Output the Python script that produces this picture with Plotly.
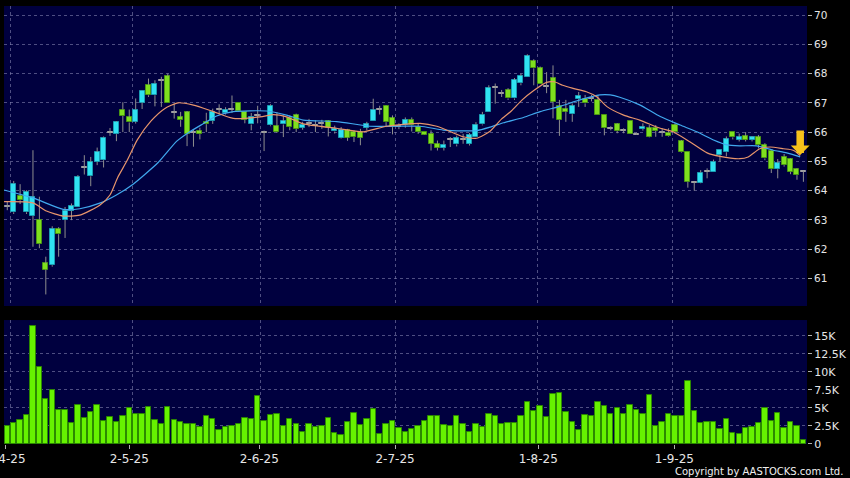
import plotly.graph_objects as go

# ---------------- data ----------------
tick_labels = ["2-4-25", "2-5-25", "2-6-25", "2-7-25", "1-8-25", "1-9-25"]
tick_index = [-0.2, 19.0, 39.25, 60.4, 82.7, 103.9]      # label positions (bar index)
grid_index = [0.53, 19.53, 39.4, 60.4, 82.6, 103.6]      # dashed vertical grid positions

opens = [63.47, 63.26, 63.81, 63.26, 63.13, 63.01, 61.51, 61.45, 62.70, 63.01,
         63.31, 63.44, 64.78, 64.49, 64.98, 65.04, 65.98, 65.93, 66.77, 66.50,
         66.35, 67.01, 67.62, 67.26, 67.75, 67.91, 66.68, 66.50, 66.67, 65.98,
         66.02, 66.35, 66.38, 66.77, 66.66, 66.78, 66.99, 66.68, 66.26, 66.57,
         65.98, 66.23, 66.20, 66.26, 66.49, 66.59, 66.15, 66.30, 66.22, 66.30,
         66.38, 66.02, 65.81, 66.06, 66.00, 66.00, 66.15, 66.38, 66.76, 66.89,
         66.48, 66.20, 66.23, 66.43, 66.19, 66.00, 65.94, 65.60, 65.46, 65.75,
         65.58, 65.75, 65.60, 65.83, 66.26, 66.69, 67.52, 67.32, 67.44, 67.15,
         67.67, 67.90, 68.43, 68.18, 67.55, 67.84, 66.89, 66.78, 66.61, 67.13,
         67.13, 67.15, 67.10, 66.58, 66.13, 66.26, 66.04, 66.39, 65.93, 66.10,
         66.13, 66.15, 65.98, 65.98, 66.24, 65.70, 65.31, 64.27, 64.27, 64.65,
         64.64, 65.22, 65.31, 66.01, 65.73, 65.86, 65.73, 65.82, 65.56, 65.36,
         64.73, 65.16, 65.07, 64.73, 64.64]
highs = [63.62, 64.33, 64.22, 64.01, 65.38, 63.79, 61.74, 62.78, 62.75, 63.44,
         63.56, 64.53, 65.21, 65.15, 65.47, 65.85, 66.14, 66.37, 67.02, 66.77,
         67.15, 67.43, 67.83, 67.77, 67.89, 68.00, 66.97, 66.69, 66.72, 66.10,
         66.15, 66.66, 66.80, 66.95, 66.85, 67.25, 66.99, 66.68, 66.65, 66.90,
         66.05, 66.95, 66.67, 66.57, 66.57, 66.63, 66.35, 66.45, 66.40, 66.42,
         66.40, 66.22, 66.17, 66.11, 66.06, 66.11, 66.35, 67.14, 66.90, 66.91,
         66.57, 66.30, 66.50, 66.50, 66.28, 66.00, 66.06, 65.71, 65.71, 65.83,
         65.88, 65.94, 65.97, 66.34, 66.69, 67.60, 67.66, 67.44, 67.50, 67.85,
         68.00, 68.66, 68.49, 68.24, 68.05, 68.28, 67.10, 67.10, 66.98, 67.37,
         67.27, 67.27, 67.27, 66.58, 66.20, 66.30, 66.13, 66.39, 65.98, 66.30,
         66.24, 66.24, 66.13, 66.13, 66.30, 65.73, 65.31, 64.30, 64.70, 64.76,
         65.06, 65.39, 65.85, 66.01, 65.95, 66.00, 65.86, 65.90, 65.62, 65.38,
         65.08, 65.25, 65.10, 64.76, 64.68]
lows = [63.33, 63.20, 63.54, 63.20, 62.08, 62.03, 60.45, 61.40, 61.74, 62.38,
        62.99, 63.44, 64.55, 64.15, 64.87, 64.79, 65.87, 65.69, 66.00, 66.00,
        66.29, 66.79, 67.20, 66.88, 66.86, 67.00, 66.46, 66.18, 65.52, 65.50,
        65.75, 66.00, 66.28, 66.60, 66.60, 66.66, 66.70, 66.30, 66.06, 66.30,
        65.35, 66.20, 65.97, 65.83, 66.06, 66.00, 66.08, 66.17, 66.00, 66.11,
        65.85, 65.95, 65.78, 65.70, 65.66, 65.55, 66.06, 66.38, 66.60, 66.17,
        65.92, 66.10, 66.15, 66.02, 65.94, 65.90, 65.37, 65.37, 65.37, 65.49,
        65.51, 65.60, 65.54, 65.83, 66.23, 66.69, 66.97, 67.20, 67.10, 67.10,
        67.60, 67.90, 67.60, 67.63, 67.33, 66.47, 65.87, 66.35, 66.35, 66.86,
        66.86, 67.05, 66.58, 65.89, 66.06, 65.96, 65.96, 65.93, 65.90, 66.05,
        65.82, 65.84, 65.84, 65.84, 65.95, 65.29, 64.10, 64.00, 64.25, 64.42,
        64.64, 64.99, 65.17, 65.75, 65.68, 65.68, 65.68, 65.44, 65.04, 64.60,
        64.42, 64.82, 64.56, 64.37, 64.30]
closes = [63.47, 64.24, 63.67, 63.96, 63.79, 62.17, 61.30, 62.70, 62.51, 63.31,
          63.47, 64.47, 64.78, 64.98, 65.32, 65.81, 65.98, 66.34, 66.55, 66.33,
          66.77, 67.42, 67.26, 67.66, 67.75, 67.00, 66.68, 66.41, 65.95, 65.98,
          65.93, 66.27, 66.68, 66.77, 66.76, 66.78, 66.72, 66.42, 66.53, 66.57,
          65.98, 66.90, 66.00, 66.38, 66.17, 66.11, 66.25, 66.30, 66.22, 66.30,
          66.14, 66.11, 66.06, 65.81, 65.83, 65.81, 66.26, 66.76, 66.76, 66.34,
          66.17, 66.20, 66.43, 66.23, 66.00, 65.91, 65.60, 65.46, 65.57, 65.75,
          65.79, 65.75, 65.89, 66.25, 66.60, 67.52, 67.52, 67.32, 67.15, 67.78,
          67.92, 68.60, 68.18, 67.63, 67.55, 67.04, 66.41, 66.70, 66.89, 67.24,
          66.98, 67.15, 66.58, 66.13, 66.13, 66.04, 66.04, 65.93, 65.93, 66.17,
          65.84, 66.04, 65.98, 65.86, 66.01, 65.31, 64.30, 64.27, 64.61, 64.65,
          64.99, 65.39, 65.75, 65.82, 65.82, 65.73, 65.82, 65.56, 65.10, 64.73,
          64.93, 64.87, 64.64, 64.53, 64.64]
volumes_k = [2.45, 2.96, 3.38, 4.03, 16.4, 10.7, 6.3, 7.5, 4.77, 4.68,
             2.96, 5.4, 3.66, 4.4, 5.4, 3.2, 3.7, 3.06, 3.94, 5.0,
             4.2, 4.2, 5.1, 3.3, 2.8, 5.1, 3.3, 3.0, 2.7, 2.7,
             2.4, 3.9, 3.5, 2.0, 2.4, 2.5, 2.7, 3.66, 3.4, 6.67,
             3.15, 4.07, 4.17, 2.55, 3.4, 2.7, 1.7, 2.8, 2.3, 2.5,
             3.66, 1.57, 1.25, 3.0, 4.35, 2.6, 3.4, 4.8, 1.34, 2.7,
             3.2, 2.2, 1.7, 2.1, 2.45, 3.15, 3.9, 3.9, 2.6, 2.45,
             3.9, 2.7, 1.67, 2.7, 2.3, 4.17, 3.9, 2.8, 2.87, 2.9,
             3.84, 5.8, 4.5, 5.3, 3.7, 6.9, 7.0, 4.4, 3.06, 1.9,
             4.0, 3.9, 5.8, 5.3, 4.1, 5.05, 4.2, 5.46, 4.68, 4.17,
             6.76, 2.55, 3.1, 4.2, 3.9, 3.84, 8.66, 4.63, 2.9, 3.0,
             3.0, 2.1, 3.5, 1.57, 1.43, 2.27, 2.36, 2.87, 5.0, 3.2,
             4.3, 2.2, 3.1, 2.45, 0.55]

# moving-average lines at the given bar positions
ma_fast_x = [-0.5, 4, 6.1, 8.7, 11.3, 14.4, 16, 17.2, 18.6, 20.3, 22.4, 24.5, 26.6,
             29, 32.1, 35.2, 39.4, 41.5, 43.5, 46.1, 51.3, 55.4, 59.1, 64.3, 66.9,
             71.0, 73.1, 75.2, 77.0, 78.5, 80.2, 82, 84, 85.2, 86.5, 88, 90.2, 91.8,
             93.4, 96, 98.5, 101.7, 103.7, 106.3, 109, 111, 114.1, 115.4, 117.2,
             118.8, 120.9, 122.4, 123.5]
ma_fast = [63.62, 63.58, 63.30, 63.13, 63.16, 63.50, 63.85, 64.45, 65.00, 65.75, 66.38,
           66.80, 67.00, 66.92, 66.70, 66.47, 66.52, 66.60, 66.52, 66.28, 66.13, 66.01,
           66.20, 66.30, 66.20, 65.84, 65.79, 66.03, 66.45, 66.72, 67.10, 67.42, 67.70,
           67.72, 67.60, 67.50, 67.38, 67.21, 66.87, 66.58, 66.41, 66.13, 66.01, 65.67,
           65.29, 65.17, 65.09, 65.15, 65.43, 65.49, 65.43, 65.38, 65.20]
ma_slow_x = [-0.5, 4, 8.7, 11.3, 14.4, 17, 19.6, 23.5, 26.4, 28.2, 30.4, 32.6, 35.2,
             40.4, 43.5, 46.1, 51.3, 56.5, 60.6, 64.3, 67.9, 71.0, 73.1, 75.2, 77.3,
             80.4, 83, 86.1, 89.2, 92.3, 93.9, 95.4, 98.5, 101.7, 104.8, 107.4, 110,
             112.1, 114.1, 116.7, 119.3, 121.4, 123.5]
ma_slow = [64.02, 63.75, 63.36, 63.38, 63.57, 63.85, 64.22, 64.96, 65.69, 65.98, 66.27,
           66.55, 66.70, 66.72, 66.58, 66.41, 66.36, 66.20, 66.20, 66.20, 66.07, 66.04,
           66.05, 66.17, 66.32, 66.50, 66.70, 66.88, 67.10, 67.27, 67.27, 67.19, 66.93,
           66.53, 66.24, 66.01, 65.73, 65.56, 65.53, 65.53, 65.38, 65.29, 65.15]

price_ticks = [61, 62, 63, 64, 65, 66, 67, 68, 69, 70]
vol_ticks = [0, 2.5, 5, 7.5, 10, 12.5, 15]
vol_tick_text = ["0", "2.5K", "5K", "7.5K", "10K", "12.5K", "15K"]

# ---------------- styling ----------------
NAVY = "#00003f"
GRID = "rgba(130,130,175,0.6)"
UP_FILL, UP_LINE = "#30e2f2", "#1a9db2"
DN_FILL, DN_LINE = "#7fe01e", "#4a9614"
DOJI = "#a2a2a2"
WICK = "#8e8e8e"
FONT = "DejaVu Sans"

idx = list(range(len(opens)))

body_base, body_h, body_fill, body_line = [], [], [], []
wick_x, wick_y = [], []
for i, o, h, l, c in zip(idx, opens, highs, lows, closes):
    top, bot = max(o, c), min(o, c)
    if c > o:
        body_fill.append(UP_FILL); body_line.append(UP_LINE)
        body_base.append(bot); body_h.append(top - bot)
    elif c < o:
        body_fill.append(DN_FILL); body_line.append(DN_LINE)
        body_base.append(bot); body_h.append(top - bot)
    else:
        body_fill.append(DOJI); body_line.append(DOJI)
        body_base.append(bot - 0.015); body_h.append(0.03)
    if h > top:
        wick_x += [i, i, None]; wick_y += [top, h, None]
    if l < bot:
        wick_x += [i, i, None]; wick_y += [l, bot, None]

fig = go.Figure()

fig.add_trace(go.Bar(x=idx, y=body_h, base=body_base, width=0.78,
                     marker=dict(color=body_fill, line=dict(color=body_line, width=1)),
                     xaxis="x", yaxis="y", hoverinfo="skip", showlegend=False))
fig.add_trace(go.Scatter(x=wick_x, y=wick_y, mode="lines",
                         line=dict(color=WICK, width=1),
                         xaxis="x", yaxis="y", hoverinfo="skip", showlegend=False))
fig.add_trace(go.Scatter(x=ma_slow_x, y=ma_slow, mode="lines",
                         line=dict(color="#41a8ee", width=1.2, shape="spline", smoothing=0.6),
                         xaxis="x", yaxis="y", hoverinfo="skip", showlegend=False))
fig.add_trace(go.Scatter(x=ma_fast_x, y=ma_fast, mode="lines",
                         line=dict(color="#e8956c", width=1.2, shape="spline", smoothing=0.6),
                         xaxis="x", yaxis="y", hoverinfo="skip", showlegend=False))
fig.add_trace(go.Bar(x=idx, y=volumes_k, width=0.84,
                     marker=dict(color="#66f200", line=dict(color="#2c8a00", width=1)),
                     xaxis="x2", yaxis="y2", hoverinfo="skip", showlegend=False))

xrange = [-0.51, 124.56]
common_x = dict(range=xrange, showgrid=False, zeroline=False, showline=False,
                automargin=False,
                minor=dict(tickvals=grid_index, showgrid=True, gridcolor=GRID,
                           griddash="3px,3px", gridwidth=1, ticklen=0))

fig.update_layout(
    width=850, height=478,
    margin=dict(l=4, r=43, t=6, b=34, autoexpand=False),
    paper_bgcolor="black", plot_bgcolor=NAVY,
    barmode="overlay", bargap=0,
    font=dict(family=FONT, color="#e6e6e6"),
    xaxis=dict(**common_x, anchor="y", showticklabels=False, ticks="",
               tickvals=tick_index),
    xaxis2=dict(**common_x, anchor="y2", matches="x",
                tickvals=tick_index, ticktext=tick_labels, ticks="outside",
                ticklen=4, tickcolor="#b0b0b0", tickfont=dict(size=12, color="#e6e6e6"),
                ticklabeloverflow="allow"),
    yaxis=dict(domain=[0.3151, 1.0], range=[60.055, 70.31], side="right",
               tickvals=price_ticks, ticks="outside", ticklen=4, tickcolor="#b0b0b0",
               tickfont=dict(size=10.5, color="#e6e6e6"), automargin=False,
               showgrid=True, gridcolor=GRID, griddash="3px,3px", gridwidth=1,
               zeroline=False, showline=False, fixedrange=True),
    yaxis2=dict(domain=[0.0, 0.283], range=[0, 17.18], side="right",
                tickvals=vol_ticks, ticktext=vol_tick_text, ticks="outside",
                ticklen=4, tickcolor="#b0b0b0", tickfont=dict(size=11, color="#e6e6e6"),
                automargin=False,
                showgrid=True, gridcolor=GRID, griddash="3px,3px", gridwidth=1,
                zeroline=False, showline=False, fixedrange=True),
    annotations=[
        dict(x=123.5, y=65.22, xref="x", yref="y", text="", showarrow=True,
             ax=0, ay=-26, arrowhead=1, arrowsize=0.42, arrowwidth=7.5,
             arrowcolor="#f7c21a"),
        dict(x=1, y=0, xref="paper", yref="paper", xanchor="right", yanchor="middle",
             xshift=38, yshift=-27, showarrow=False,
             text="Copyright by AASTOCKS.com Ltd.",
             font=dict(size=10, color="#f0f0f0", family=FONT)),
    ],
)

fig.write_html("out.html", config={"displayModeBar": False},
               post_script="document.body.style.margin='0';document.body.style.background='black';")
